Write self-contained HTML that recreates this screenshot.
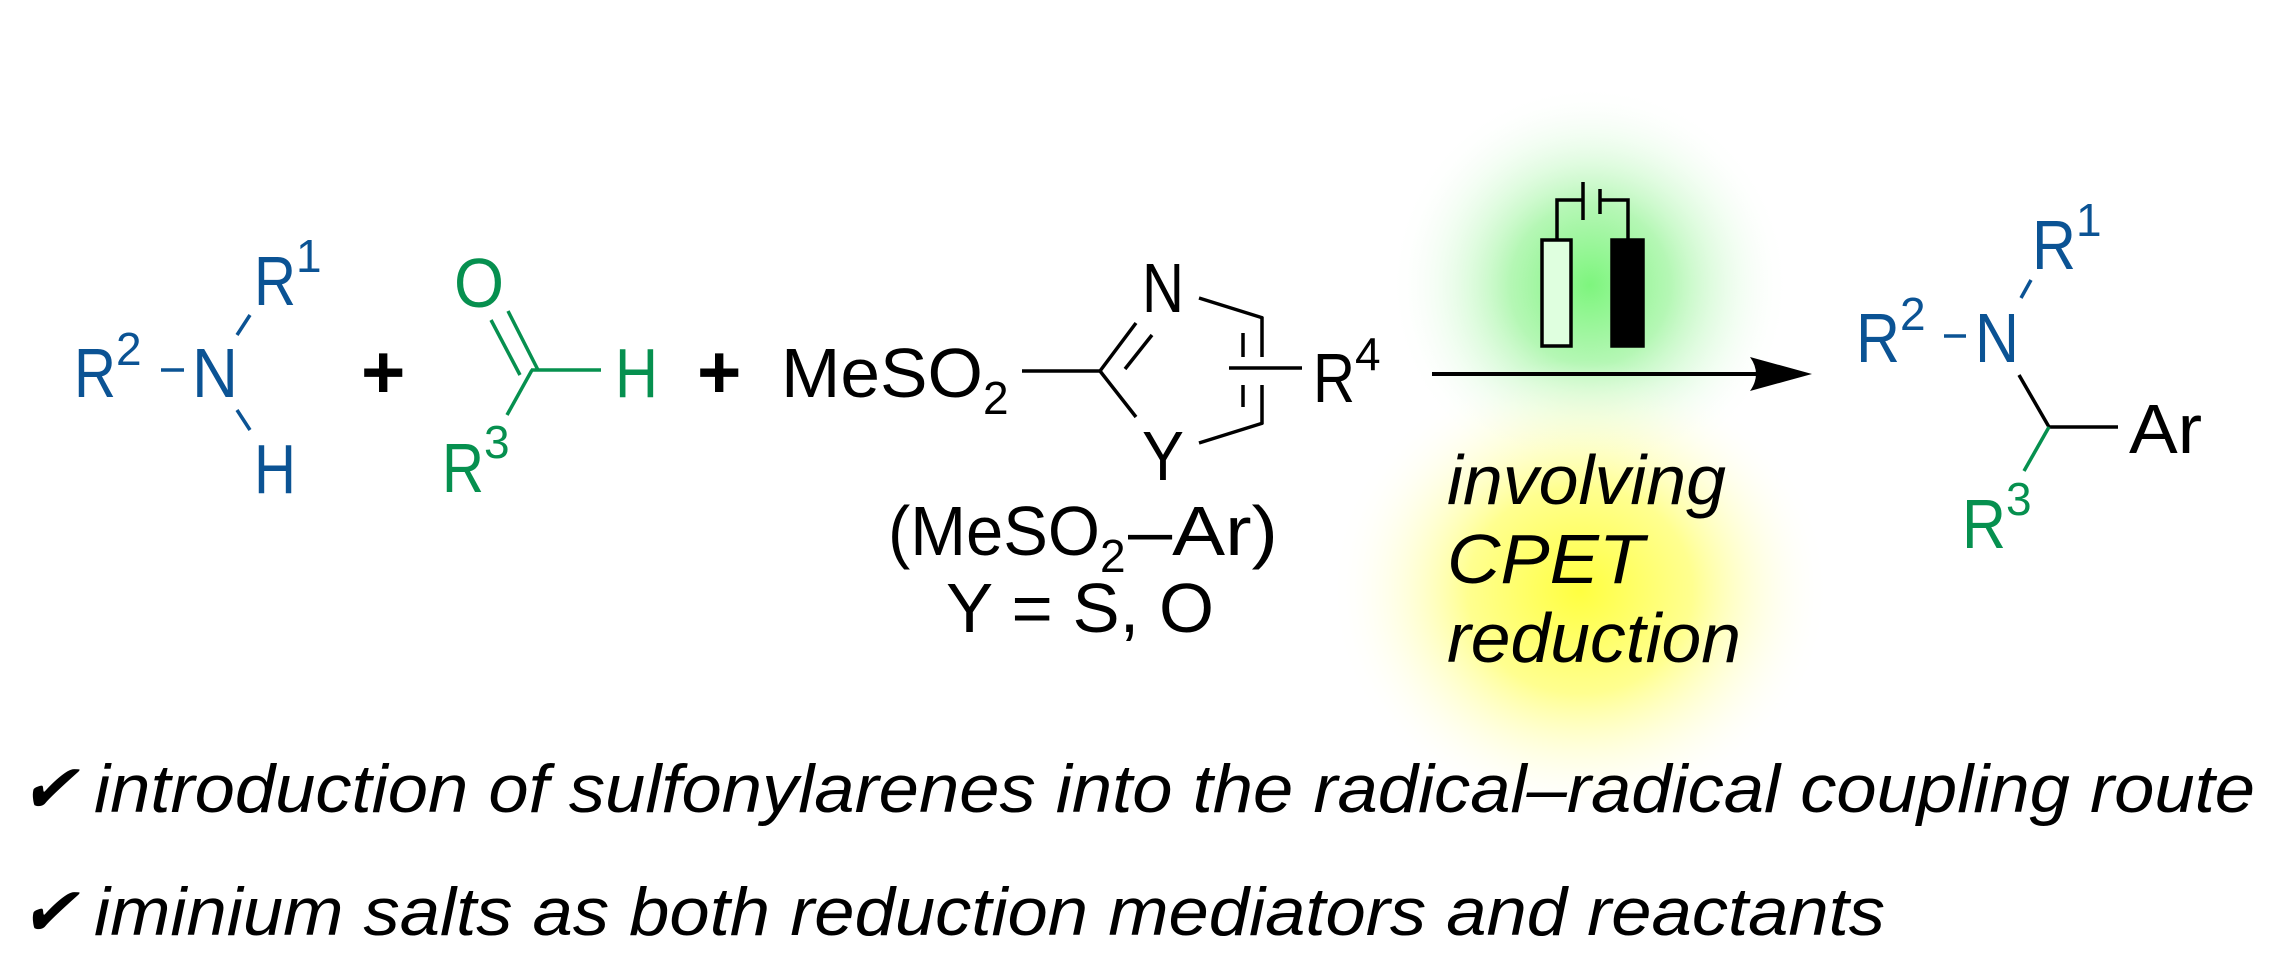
<!DOCTYPE html>
<html><head><meta charset="utf-8"><style>html,body{margin:0;padding:0;background:#fff}svg{display:block}</style></head>
<body>
<svg width="2273" height="962" viewBox="0 0 2273 962" xmlns="http://www.w3.org/2000/svg" font-family="Liberation Sans, Arial, sans-serif">
<defs>
<radialGradient id="g" cx="50%" cy="50%" r="50%">
<stop offset="0" stop-color="#7ef57e"/><stop offset="0.4" stop-color="#b5f7b5"/><stop offset="1" stop-color="#ffffff" stop-opacity="0"/>
</radialGradient>
<radialGradient id="y" cx="50%" cy="50%" r="50%">
<stop offset="0" stop-color="#ffff40"/><stop offset="0.45" stop-color="#ffff90"/><stop offset="1" stop-color="#ffffff" stop-opacity="0"/>
</radialGradient>
</defs>
<ellipse cx="1590" cy="285" rx="200" ry="200" fill="url(#g)"/>
<ellipse cx="1580" cy="590" rx="250" ry="230" fill="url(#y)"/>

<g font-size="70">
<g fill="#0b5394" stroke="none">
<text x="74" y="397" textLength="42" lengthAdjust="spacingAndGlyphs">R</text>
<text x="116" y="365" font-size="46">2</text>
<text x="192" y="397" textLength="46" lengthAdjust="spacingAndGlyphs">N</text>
<text x="254" y="305" textLength="42" lengthAdjust="spacingAndGlyphs">R</text>
<text x="296" y="272" font-size="46">1</text>
<text x="254" y="493" textLength="42" lengthAdjust="spacingAndGlyphs">H</text>
</g>
<g stroke="#0b5394" stroke-width="3.5">
<line x1="161" y1="370" x2="184" y2="370"/>
<line x1="250" y1="315" x2="237" y2="335"/>
<line x1="237" y1="410" x2="250" y2="430"/>
</g>
<text x="361" y="398" font-size="76" font-weight="bold">+</text>
<g fill="#06904f">
<text x="454" y="307" textLength="50" lengthAdjust="spacingAndGlyphs">O</text>
<text x="615" y="397" textLength="43" lengthAdjust="spacingAndGlyphs">H</text>
<text x="442" y="492" textLength="42" lengthAdjust="spacingAndGlyphs">R</text>
<text x="484" y="458" font-size="46">3</text>
</g>
<g stroke="#06904f" stroke-width="3.5">
<line x1="508" y1="311" x2="538" y2="370"/>
<line x1="491" y1="320" x2="520" y2="375"/>
<line x1="531" y1="370" x2="601" y2="370"/>
<line x1="532" y1="370" x2="507" y2="415"/>
</g>
<text x="697" y="398" font-size="76" font-weight="bold">+</text>
<text x="781" y="397" textLength="202" lengthAdjust="spacingAndGlyphs">MeSO</text>
<text x="983" y="414" font-size="46">2</text>
<g stroke="#000" stroke-width="3.5" fill="none">
<line x1="1022" y1="371" x2="1100" y2="371"/>
<line x1="1100" y1="371" x2="1136" y2="323"/>
<line x1="1125" y1="369" x2="1152" y2="335"/>
<line x1="1199" y1="298" x2="1263" y2="318"/>
<line x1="1262" y1="317" x2="1262" y2="357"/>
<line x1="1243" y1="333" x2="1243" y2="357"/>
<line x1="1262" y1="385" x2="1262" y2="424"/>
<line x1="1243" y1="385" x2="1243" y2="407"/>
<line x1="1229" y1="368" x2="1302" y2="368"/>
<line x1="1263" y1="423" x2="1199" y2="443"/>
<line x1="1100" y1="371" x2="1136" y2="417"/>
</g>
<text x="1142" y="312" textLength="42" lengthAdjust="spacingAndGlyphs">N</text>
<text x="1142" y="480" textLength="42" lengthAdjust="spacingAndGlyphs">Y</text>
<text x="1313" y="402" textLength="42" lengthAdjust="spacingAndGlyphs">R</text>
<text x="1355" y="370" font-size="46">4</text>
<text x="888" y="555" textLength="212" lengthAdjust="spacingAndGlyphs">(MeSO</text>
<text x="1100" y="572" font-size="46">2</text>
<text x="1128" y="555" textLength="150" lengthAdjust="spacingAndGlyphs">–Ar)</text>
<text x="946" y="632" textLength="268" lengthAdjust="spacingAndGlyphs">Y = S, O</text>

<line x1="1432" y1="374" x2="1770" y2="374" stroke="#000" stroke-width="4"/>
<path d="M1812 374 L1750 357 Q1762 374 1750 391 Z" fill="#000"/>
<g stroke="#000" stroke-width="3.5" fill="none">
<rect x="1542" y="240" width="29" height="106" fill="#dfffdf"/>
<rect x="1612" y="240" width="31" height="106" fill="#000"/>
<polyline points="1557,240 1557,200 1583,200"/>
<line x1="1583" y1="182" x2="1583" y2="220"/>
<line x1="1600" y1="189" x2="1600" y2="214"/>
<polyline points="1600,200 1628,200 1628,240"/>
</g>
<g font-style="italic">
<text x="1447" y="504" textLength="279" lengthAdjust="spacingAndGlyphs">involving</text>
<text x="1447" y="583" textLength="197" lengthAdjust="spacingAndGlyphs">CPET</text>
<text x="1447" y="662" textLength="294" lengthAdjust="spacingAndGlyphs">reduction</text>
</g>
<g fill="#0b5394">
<text x="1856" y="362" textLength="44" lengthAdjust="spacingAndGlyphs">R</text>
<text x="1900" y="330" font-size="46">2</text>
<text x="1975" y="362" textLength="44" lengthAdjust="spacingAndGlyphs">N</text>
<text x="2032" y="269" textLength="44" lengthAdjust="spacingAndGlyphs">R</text>
<text x="2076" y="236" font-size="46">1</text>
</g>
<g stroke="#0b5394" stroke-width="3.5">
<line x1="1944" y1="336" x2="1966" y2="336"/>
<line x1="2021" y1="298" x2="2031" y2="280"/>
</g>
<line x1="2019" y1="375" x2="2049" y2="427" stroke="#000" stroke-width="3.5"/>
<line x1="2049" y1="427" x2="2118" y2="427" stroke="#000" stroke-width="3.5"/>
<line x1="2049" y1="427" x2="2024" y2="471" stroke="#06904f" stroke-width="3.5"/>
<text x="2129" y="453" textLength="73" lengthAdjust="spacingAndGlyphs">Ar</text>
<g fill="#06904f">
<text x="1962" y="548" textLength="44" lengthAdjust="spacingAndGlyphs">R</text>
<text x="2006" y="515" font-size="46">3</text>
</g>
</g>

<g font-size="68" font-style="italic">
<text x="20" y="812">✔</text>
<text x="94" y="812" textLength="2161" lengthAdjust="spacingAndGlyphs">introduction of sulfonylarenes into the radical–radical coupling route</text>
<text x="20" y="935">✔</text>
<text x="94" y="935" textLength="1791" lengthAdjust="spacingAndGlyphs">iminium salts as both reduction mediators and reactants</text>
</g>
</svg>
</body></html>
